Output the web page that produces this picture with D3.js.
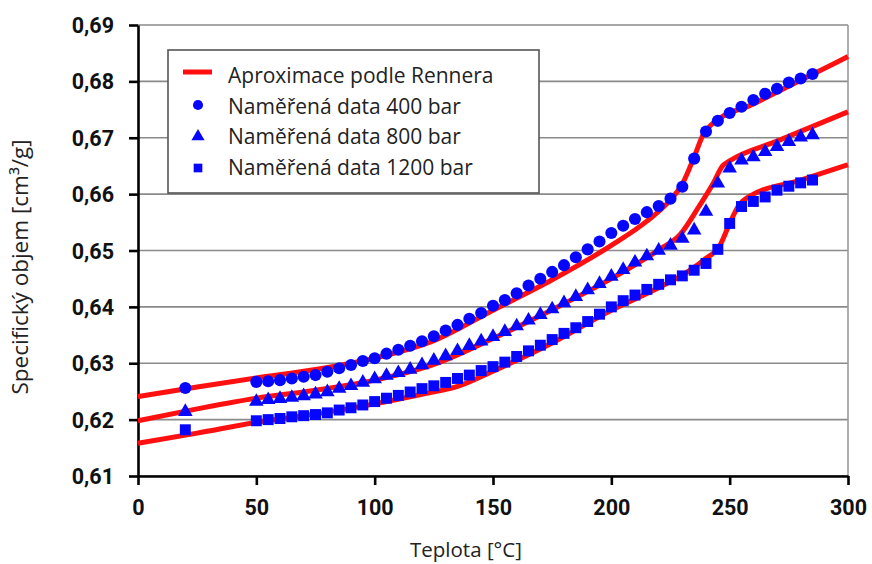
<!DOCTYPE html>
<html>
<head>
<meta charset="utf-8">
<script src="https://cdn.jsdelivr.net/npm/d3@7"></script>
<style>
  body { margin: 0; background: #fff; }
  svg { display: block; }
</style>
</head>
<body>
<svg id="chart"></svg>
<script>
// measured points (temperature in °C)
let temps = [20, 50, 55, 60, 65, 70, 75, 80, 85, 90, 95, 100, 105, 110, 115, 120, 125, 130, 135, 140,
  145, 150, 155, 160, 165, 170, 175, 180, 185, 190, 195, 200, 205, 210, 215, 220, 225, 230, 235, 240,
  245, 250, 255, 260, 265, 270, 275, 280, 285];

let data400 = [0.6256, 0.6267, 0.6268, 0.6270, 0.6273, 0.6276, 0.6279, 0.6285, 0.6291, 0.6297, 0.6304, 0.6309,
  0.6317, 0.6324, 0.6331, 0.6339, 0.6348, 0.6358, 0.6368, 0.6379, 0.6389, 0.6402, 0.6412, 0.6424, 0.6438,
  0.6450, 0.6462, 0.6474, 0.6488, 0.6502, 0.6516, 0.6531, 0.6544, 0.6556, 0.6568, 0.6579, 0.6592, 0.6613,
  0.6663, 0.6711, 0.6730, 0.6744, 0.6755, 0.6767, 0.6778, 0.6787, 0.6798, 0.6805, 0.6813];

let data800 = [0.6214, 0.6232, 0.6235, 0.6237, 0.6239, 0.6242, 0.6245, 0.6249, 0.6255, 0.6260, 0.6266, 0.6272,
  0.6278, 0.6283, 0.6289, 0.6297, 0.6305, 0.6313, 0.6322, 0.6331, 0.6339, 0.6347, 0.6356, 0.6366, 0.6376,
  0.6386, 0.6396, 0.6407, 0.6418, 0.6430, 0.6441, 0.6454, 0.6466, 0.6479, 0.6490, 0.6500, 0.6509, 0.6521,
  0.6536, 0.6569, 0.6619, 0.6646, 0.6660, 0.6666, 0.6675, 0.6684, 0.6693, 0.6701, 0.6705];

let data1200 = [0.6182, 0.6198, 0.6200, 0.6202, 0.6205, 0.6207, 0.6209, 0.6212, 0.6217, 0.6221, 0.6226, 0.6232,
  0.6238, 0.6243, 0.6249, 0.6255, 0.6260, 0.6266, 0.6273, 0.6279, 0.6287, 0.6294, 0.6302, 0.6312, 0.6322,
  0.6332, 0.6342, 0.6353, 0.6363, 0.6374, 0.6387, 0.6400, 0.6411, 0.6421, 0.6431, 0.6440, 0.6448, 0.6455,
  0.6465, 0.6477, 0.6502, 0.6548, 0.6578, 0.6587, 0.6595, 0.6607, 0.6614, 0.6620, 0.6625];

// Renner approximation curves
let fitTemps400 = [0, 25, 50, 75, 100, 125, 150, 175, 200, 215, 225, 230, 235, 239, 242, 260, 280, 300];
let fit400 = [0.6241, 0.6258, 0.6274, 0.6289, 0.6309, 0.6340, 0.6394, 0.6448, 0.6509, 0.6552, 0.6590, 0.6618,
  0.6666, 0.6707, 0.6722, 0.6760, 0.6802, 0.6844];

let fitTemps800 = [0, 25, 50, 75, 100, 125, 150, 175, 200, 220, 229, 237, 243, 247, 250, 270, 300];
let fit800 = [0.6198, 0.6219, 0.6238, 0.6252, 0.6270, 0.6298, 0.6344, 0.6395, 0.6450, 0.6501, 0.6528, 0.6578,
  0.6619, 0.6650, 0.6659, 0.6694, 0.6746];

let fitTemps1200 = [0, 25, 50, 75, 100, 120, 135, 150, 175, 200, 220, 229, 239, 246, 250, 254, 258, 280, 300];
let fit1200 = [0.6158, 0.6176, 0.6195, 0.6210, 0.6228, 0.6245, 0.6259, 0.6286, 0.6336, 0.6394, 0.6434, 0.6454,
  0.6483, 0.6510, 0.6548, 0.6581, 0.6595, 0.6625, 0.6652];

let yTicks = [0.61, 0.62, 0.63, 0.64, 0.65, 0.66, 0.67, 0.68, 0.69];
let xTicks = [0, 50, 100, 150, 200, 250, 300];

let legendLabels = ["Aproximace podle Rennera", "Naměřená data 400 bar", "Naměřená data 800 bar", "Naměřená data 1200 bar"];

let w = 872;
let h = 564;
let svg = d3.select('#chart').attr('width', w).attr('height', h);

let x = d3.scaleLinear().domain([0, 300]).range([138, 848]);
let y = d3.scaleLinear().domain([0.61, 0.69]).range([476, 25]);

let locale = d3.formatLocale({ decimal: ",", thousands: " ", grouping: [3], currency: ["", ""] });
let fmt = locale.format(".2f");

// grid lines
svg.append('g')
  .selectAll('line')
  .data(yTicks)
  .enter()
  .append('line')
  .attr('x1', x(0))
  .attr('x2', x(300))
  .attr('y1', d => y(d))
  .attr('y2', d => y(d))
  .attr('stroke', '#8a8a8a')
  .attr('stroke-width', 1.6);

// right border
svg.append('line')
  .attr('x1', x(300)).attr('x2', x(300))
  .attr('y1', y(0.69)).attr('y2', y(0.61))
  .attr('stroke', '#9a9a9a')
  .attr('stroke-width', 1.6);

// axes
let yAxis = svg.append('g')
  .attr('transform', 'translate(' + x(0) + ',0)')
  .call(d3.axisLeft(y).tickValues(yTicks).tickSize(9).tickSizeOuter(0).tickPadding(15).tickFormat(fmt));

let xAxis = svg.append('g')
  .attr('transform', 'translate(0,' + y(0.61) + ')')
  .call(d3.axisBottom(x).tickValues(xTicks).tickSize(9).tickSizeOuter(0).tickPadding(15).tickFormat(d3.format('d')));

[yAxis, xAxis].forEach(a => {
  a.select('.domain').attr('stroke', '#000').attr('stroke-width', 2.6);
  a.selectAll('.tick line').attr('stroke', '#000').attr('stroke-width', 2.6);
  a.selectAll('.tick text')
    .attr('fill', '#111')
    .style('font-family', 'Roboto, sans-serif')
    .style('font-weight', 'bold')
    .style('font-size', '21.5px');
});
yAxis.selectAll('.tick text').attr('dy', '0.35em');
xAxis.selectAll('.tick text').attr('dy', '0.72em');

// legend box
let legend = svg.append('g');
legend.append('rect')
  .attr('x', 168)
  .attr('y', 50)
  .attr('width', 371)
  .attr('height', 143)
  .attr('fill', '#fff')
  .attr('stroke', '#555')
  .attr('stroke-width', 1.6);

// fit lines
let line = d3.line()
  .x(d => x(d[0]))
  .y(d => y(d[1]))
  .curve(d3.curveMonotoneX);

let fits = [
  d3.zip(fitTemps400, fit400),
  d3.zip(fitTemps800, fit800),
  d3.zip(fitTemps1200, fit1200)
];

svg.append('g')
  .selectAll('path')
  .data(fits)
  .enter()
  .append('path')
  .attr('d', line)
  .attr('fill', 'none')
  .attr('stroke', '#ff1010')
  .attr('stroke-width', 5);

// measured points
let series = [
  { values: data400, shape: d3.symbolCircle, size: 115 },
  { values: data800, shape: d3.symbolTriangle, size: 92 },
  { values: data1200, shape: d3.symbolSquare, size: 120 }
];

series.forEach(s => {
  svg.append('g')
    .selectAll('path')
    .data(d3.zip(temps, s.values))
    .enter()
    .append('path')
    .attr('d', d3.symbol().type(s.shape).size(s.size))
    .attr('transform', d => 'translate(' + x(d[0]) + ',' + y(d[1]) + ')')
    .attr('fill', '#0606ff');
});

// legend items
legend.append('line')
  .attr('x1', 183).attr('x2', 212)
  .attr('y1', 72).attr('y2', 72)
  .attr('stroke', '#ff1010')
  .attr('stroke-width', 5);

let legendShapes = [d3.symbolCircle, d3.symbolTriangle, d3.symbolSquare];
let legendSizes = [80, 75, 75];
legendShapes.forEach((shape, i) => {
  legend.append('path')
    .attr('d', d3.symbol().type(shape).size(legendSizes[i]))
    .attr('transform', 'translate(198,' + (105 + i * 31.5) + ')')
    .attr('fill', '#0606ff');
});

legend.selectAll('text')
  .data(legendLabels)
  .enter()
  .append('text')
  .attr('x', 228)
  .attr('y', (d, i) => 76 + i * 30.5)
  .attr('dy', '0.35em')
  .style('font-family', '"Open Sans", sans-serif')
  .style('font-size', '21px')
  .attr('fill', '#222')
  .text(d => d);

// axis titles
svg.append('text')
  .attr('x', 466)
  .attr('y', 557)
  .attr('text-anchor', 'middle')
  .style('font-family', '"Open Sans", sans-serif')
  .style('font-size', '20.5px')
  .attr('fill', '#222')
  .text('Teplota [°C]');

svg.append('text')
  .attr('transform', 'translate(20,267) rotate(-90)')
  .attr('text-anchor', 'middle')
  .attr('dy', '0.35em')
  .style('font-family', '"Open Sans", sans-serif')
  .style('font-size', '22.5px')
  .attr('fill', '#222')
  .text('Specifický objem [cm³/g]');
</script>
</body>
</html>
